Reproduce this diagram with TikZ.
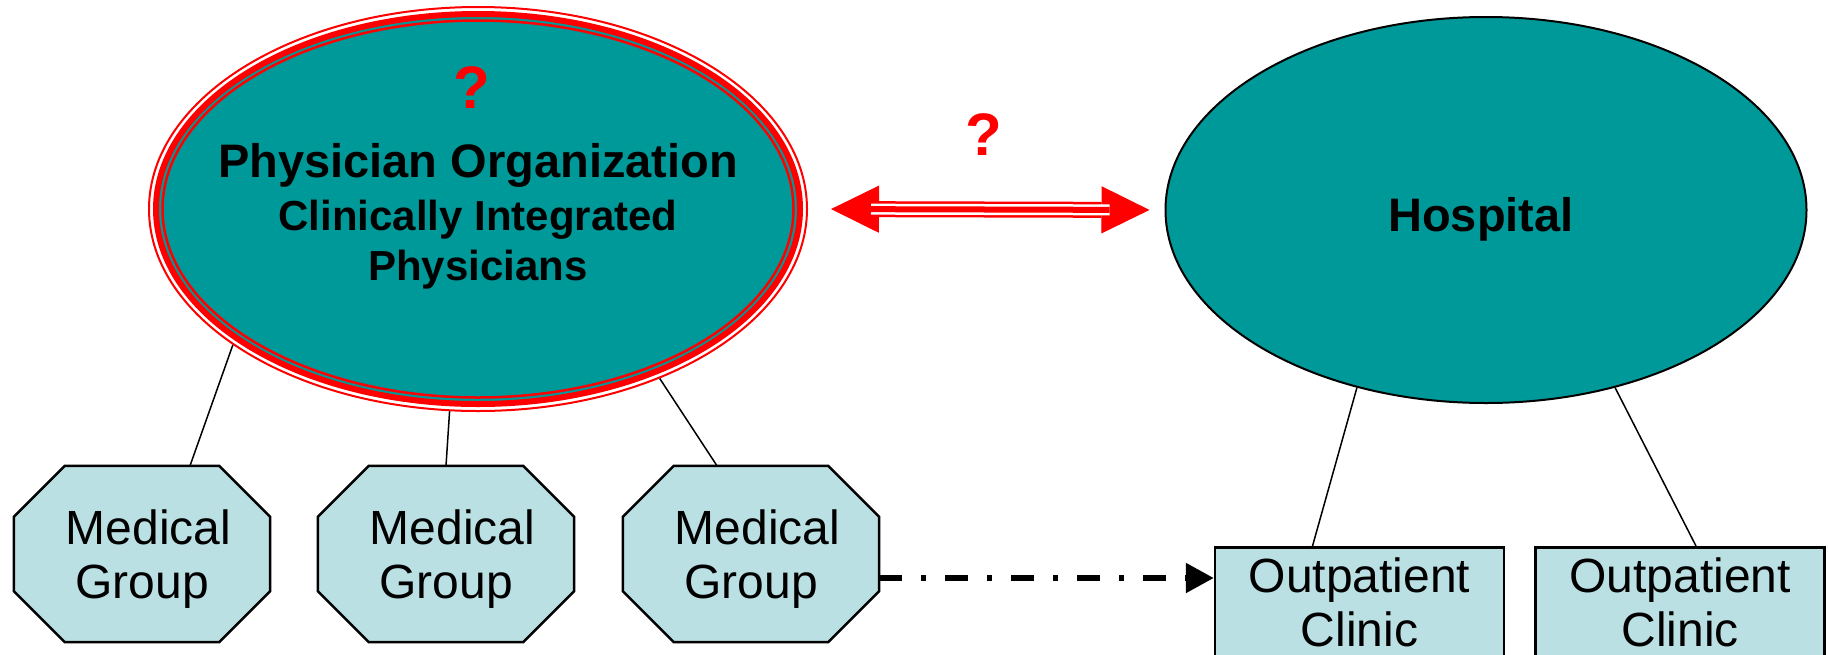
\documentclass[tikz,border=0pt]{standalone}
\usepackage{fontspec}
\setmainfont{Liberation Sans}
\usetikzlibrary{shapes.geometric,arrows.meta,positioning,calc,backgrounds}
\definecolor{tealfill}{RGB}{0,153,153}
\definecolor{groupfill}{RGB}{187,224,227}
\newcommand{\grouplead}{\rule{0pt}{44pt}\hspace*{13pt}}

\begin{document}
\begin{tikzpicture}[
    x=1pt, y=-1pt,
    org/.style={ellipse, draw=red, line width=2pt, minimum width=658pt, minimum height=404pt, inner sep=0pt},
    hosp/.style={ellipse, draw=black, line width=2pt, fill=tealfill, minimum width=641pt, minimum height=386pt, inner sep=0pt},
    group/.style={rectangle, minimum width=256pt, minimum height=176pt, inner sep=0pt, align=center, font=\fontsize{48}{54}\selectfont},
    octo/.style={draw, line width=2.5pt, fill=groupfill},
    clinic/.style={rectangle, draw, line width=2.5pt, fill=groupfill, minimum width=289pt, inner ysep=10pt, align=center, anchor=north, font=\fontsize{48}{54}\selectfont},
    head/.style={font=\fontsize{47}{54}\selectfont\bfseries, anchor=base},
    sub/.style={font=\fontsize{42}{50}\selectfont\bfseries, anchor=base},
    qmark/.style={font=\fontsize{60}{60}\selectfont\bfseries, text=red, anchor=base},
    link/.style={line width=1.5pt},
    ask/.style={red, line width=1pt, {Triangle[length=48pt,width=47pt]}-{Triangle[length=48pt,width=47pt]}, shorten <=23pt, shorten >=15pt},
    refer/.style={line width=5.5pt, dash pattern=on 23pt off 19pt on 5pt off 19pt, -{Triangle[length=28pt,width=29pt]}}
]
\path[use as bounding box, clip] (0,0) rectangle (1828,654);

% Nodes
\node[org] (po) at (478,209) {};
\draw[red, line width=6pt, fill=tealfill] (po.center) ellipse [x radius=322pt, y radius=195pt];
\draw[red, line width=2.5pt] (po.center) ellipse [x radius=315.5pt, y radius=188.5pt];
\node[qmark] (q1) at (472,108) {?};
\node[head] (ptitle) at (478,177) {Physician Organization};
\node[sub] (psub1) at (478,230) {Clinically Integrated};
\node[sub] (psub2) at (478,280) {Physicians};

\node[hosp] (hos) at (1486,210) {};
\node[head] (hlabel) at (1481,231) {Hospital};

\node[group] (mg1) at (142,554) {\grouplead Medical\\Group};
\node[group] (mg2) at (446,554) {\grouplead Medical\\Group};
\node[group] (mg3) at (751,554) {\grouplead Medical\\Group};

% octagon outlines behind the group labels
\begin{scope}[on background layer]
\foreach \g in {mg1,mg2,mg3}
  \draw[octo] ($(\g.north west)+(51,0)$) -- ($(\g.north east)+(-51,0)$) -- ($(\g.north east)+(0,51)$)
    -- ($(\g.south east)+(0,-51)$) -- ($(\g.south east)+(-51,0)$) -- ($(\g.south west)+(51,0)$)
    -- ($(\g.south west)+(0,-51)$) -- ($(\g.north west)+(0,51)$) -- cycle;
\end{scope}

\node[clinic] (cl1) at (1359.5,546) {Outpatient\\Clinic\strut};
\node[clinic, right=29pt of cl1.north east, anchor=north west] (cl2) {Outpatient\\Clinic\strut};

% Edges
\draw[link] (po.209) -- ($(mg1.north)+(48,0)$);
\draw[link] (po.262) -- (mg2.north);
\draw[link] (po.317) -- ($(mg3.north)+(-34,0)$);
\draw[link] (hos.234) -- ($(cl1.north)+(-47,0)$);
\draw[link] (hos.306) -- ($(cl2.north)+(16,0)$);

% Relation annotation
\draw[ask] (po.east) -- (hos.west);
\draw[red, line width=16pt, shorten <=71pt, shorten >=63pt] (po.east) -- (hos.west);
\draw[white, line width=11pt, shorten <=63pt, shorten >=55pt] (po.east) -- (hos.west);
\draw[red, line width=6pt, shorten <=63pt, shorten >=55pt] (po.east) -- (hos.west);
\node[qmark] (q2) at (984,155) {?};

\draw[refer] ($(mg3.east)+(0,24)$) coordinate (dd) -- (dd -| cl1.west);
\end{tikzpicture}
\end{document}
